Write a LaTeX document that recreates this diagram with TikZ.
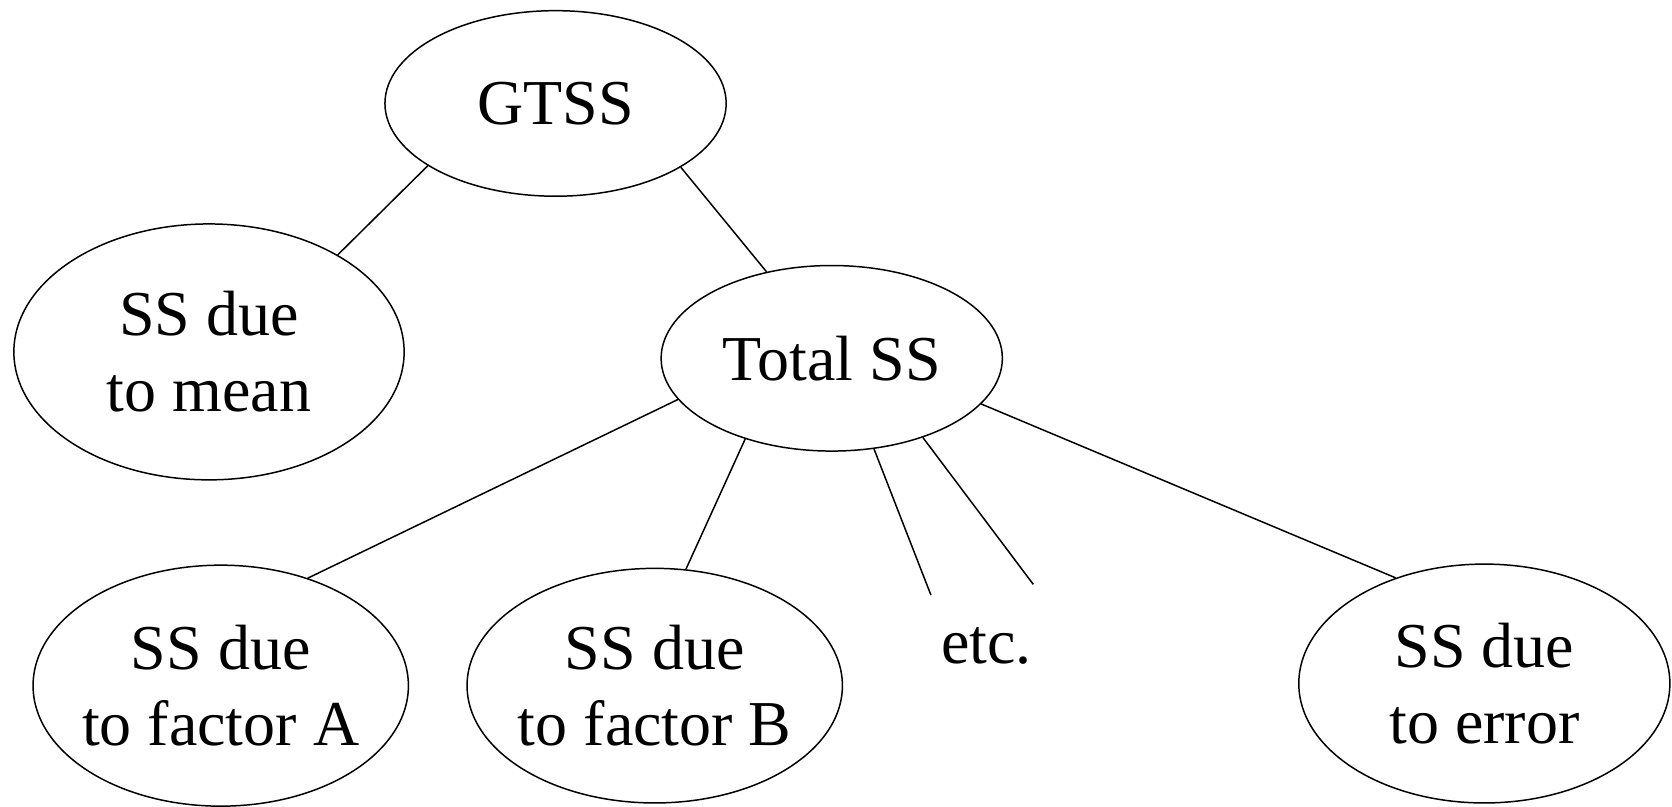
\documentclass[tikz,border=0pt]{standalone}
\usepackage{fontspec}
\setmainfont{Liberation Serif}
\usetikzlibrary{shapes.geometric}
\begin{document}
\begin{tikzpicture}[x=1pt,y=-1pt,
  txt/.style={inner sep=0pt,align=center,font=\fontsize{60}{71}\selectfont},
  oval/.style={ellipse,draw,line width=1.4pt,inner sep=0pt},
  link/.style={line width=1.4pt}]
\useasboundingbox (0,0) rectangle (1568,756);
\node[oval,minimum width=320,minimum height=174,label={[txt]center:GTSS}] (gtss) at (521,97) {};
\node[oval,minimum width=366,minimum height=240,label={[txt]center:SS due\\to mean}] (mean) at (196,330) {};
\node[oval,minimum width=320,minimum height=174,label={[txt]center:Total SS}] (total) at (780,336) {};
\node[oval,minimum width=352,minimum height=226,label={[txt]center:SS due\\to factor A}] (fa) at (207,643) {};
\node[oval,minimum width=352,minimum height=220,label={[txt]center:SS due\\to factor B}] (fb) at (614,643) {};
\node[oval,minimum width=348,minimum height=224,label={[txt]center:SS due\\to error}] (err) at (1392,641) {};
\node[txt,anchor=base] (etc) at (925,622) {etc.};
\coordinate (e1) at (873,558);
\coordinate (e2) at (969,548);
\draw[link] (gtss.206) -- (mean.37);
\draw[link] (gtss.333) -- (total.127);
\draw[link] (total.195.5) -- (fa.51.6);
\draw[link] (total.223.8) -- (fb.75.8);
\draw[link] (total.295.2) -- (e1);
\draw[link] (total.319.8) -- (e2);
\draw[link] (total.343.3) -- (err.130);
\end{tikzpicture}
\end{document}
